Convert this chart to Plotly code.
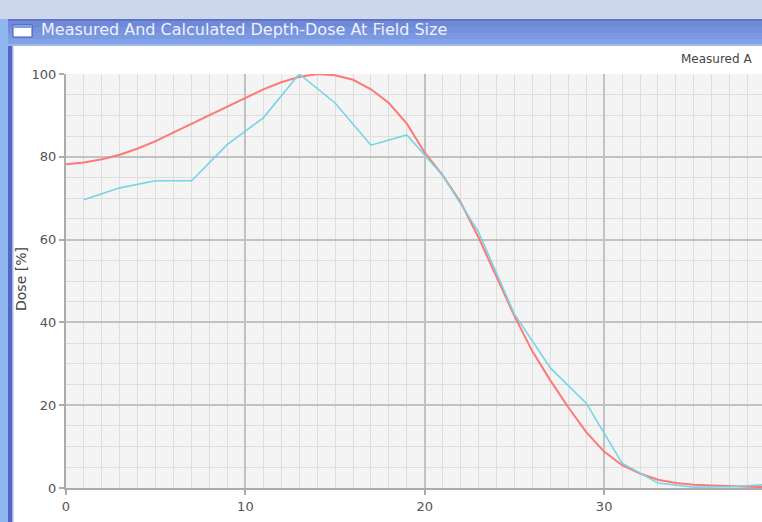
import plotly.graph_objects as go

# ---- data ----
calc_depth = list(range(0, 40))
calc_dose = [78.2, 78.6, 79.4, 80.5, 82.0, 83.8, 85.9, 88.0, 90.1, 92.2,
             94.3, 96.3, 98.0, 99.3, 100.0, 99.7, 98.6, 96.3, 93.0, 88.0,
             81.0, 75.5, 69.0, 60.5, 51.0, 41.5, 33.0, 26.0, 19.5, 13.5,
             8.8, 5.5, 3.5, 2.0, 1.2, 0.8, 0.6, 0.4, 0.3, 0.2]
meas_depth = [1, 3, 5, 7, 9, 11, 13, 15, 17, 19, 21, 23, 25, 27, 29, 31, 33, 35, 37, 39]
meas_dose = [69.6, 72.5, 74.2, 74.2, 83.0, 89.4, 100.0, 93.0, 82.8, 85.3,
             75.5, 61.8, 42.0, 29.0, 20.5, 6.0, 1.2, 0.2, 0.3, 0.8]

x_ticks = [0, 10, 20, 30]
y_ticks = [0, 20, 40, 60, 80, 100]
window_title = "Measured And Calculated Depth-Dose At Field Size"
legend_text = "Measured A"
y_title = "Dose [%]"

W, H = 762, 522
L, R, T, B = 66, 0, 74, 34
PW, PH = W - L - R, H - T - B


def px(x):
    return (x - L) / PW


def py(y):
    return (H - B - y) / PH


fig = go.Figure()
fig.add_trace(go.Scatter(x=calc_depth, y=calc_dose, mode="lines",
                         line=dict(color="#ff7878", width=2), name="Calculated"))
fig.add_trace(go.Scatter(x=meas_depth, y=meas_dose, mode="lines",
                         line=dict(color="#74d5e5", width=1.6), name="Measured"))

shapes = []
# outer desktop background strip
shapes.append(dict(type="rect", xref="paper", yref="paper", x0=px(0), x1=px(W), y0=py(0), y1=py(19),
                   fillcolor="#cdd7ec", line=dict(width=0), layer="below"))
# left light strip
shapes.append(dict(type="rect", xref="paper", yref="paper", x0=px(0), x1=px(8), y0=py(19), y1=py(H),
                   fillcolor="#8fb6ee", line=dict(width=0), layer="below"))
# window border
shapes.append(dict(type="rect", xref="paper", yref="paper", x0=px(8), x1=px(12), y0=py(19), y1=py(H),
                   fillcolor="#5366c4", line=dict(width=0), layer="below"))
shapes.append(dict(type="rect", xref="paper", yref="paper", x0=px(12), x1=px(13.5), y0=py(45), y1=py(H),
                   fillcolor="#a9b4e4", line=dict(width=0), layer="below"))
# title bar bands (approximate gradient)
bands = [(19, 21, "#5f74c8"), (21, 27, "#7089d6"), (27, 33, "#7590dc"),
         (33, 39, "#7b98e2"), (39, 44, "#82a2e8"), (44, 46, "#9fb6ea")]
for y0, y1, c in bands:
    shapes.append(dict(type="rect", xref="paper", yref="paper", x0=px(8), x1=px(W), y0=py(y0), y1=py(y1),
                       fillcolor=c, line=dict(width=0), layer="below"))
# title icon
shapes.append(dict(type="rect", xref="paper", yref="paper", x0=px(13), x1=px(32), y0=py(25), y1=py(37),
                   fillcolor="#ffffff", line=dict(color="#3f56b8", width=1), layer="below"))
shapes.append(dict(type="rect", xref="paper", yref="paper", x0=px(13.5), x1=px(31.5), y0=py(25.5), y1=py(28),
                   fillcolor="#7fa0e6", line=dict(width=0), layer="below"))

annotations = [
    dict(text=window_title, xref="paper", yref="paper", x=px(39), y=py(30),
         xanchor="left", yanchor="middle", showarrow=False,
         font=dict(family="DejaVu Sans", size=16, color="#eef2fd")),
    dict(text=legend_text, xref="paper", yref="paper", x=px(679), y=py(59),
         xanchor="left", yanchor="middle", showarrow=False,
         font=dict(family="DejaVu Sans", size=12, color="#444444")),
    dict(text=y_title, xref="paper", yref="paper", x=px(21), y=py(279),
         xanchor="center", yanchor="middle", showarrow=False, textangle=-90,
         font=dict(family="DejaVu Sans", size=14, color="#444444")),
]

fig.update_layout(
    width=W, height=H,
    margin=dict(l=L, r=R, t=T, b=B),
    paper_bgcolor="#ffffff",
    plot_bgcolor="#f4f4f4",
    showlegend=False,
    shapes=shapes,
    annotations=annotations,
    font=dict(family="DejaVu Sans", size=13, color="#555555"),
)
fig.update_xaxes(
    range=[0, 38.8], tickmode="array", tickvals=x_ticks, ticktext=[str(v) for v in x_ticks],
    showgrid=True, gridcolor="#c2c2c2", gridwidth=2,
    minor=dict(dtick=1, showgrid=True, gridcolor="#dedede", gridwidth=1),
    showline=True, linecolor="#acacac", linewidth=2,
    ticks="outside", ticklen=5, tickcolor="#acacac", tickwidth=2,
    zeroline=False, fixedrange=True,
)
fig.update_yaxes(
    range=[0, 100], tickmode="array", tickvals=y_ticks, ticktext=[str(v) for v in y_ticks],
    showgrid=True, gridcolor="#c2c2c2", gridwidth=2,
    minor=dict(dtick=5, showgrid=True, gridcolor="#dedede", gridwidth=1),
    showline=True, linecolor="#acacac", linewidth=2,
    ticks="outside", ticklen=5, tickcolor="#acacac", tickwidth=2,
    zeroline=False, fixedrange=True,
)

fig.write_html("out.html", config={"displayModeBar": False})
